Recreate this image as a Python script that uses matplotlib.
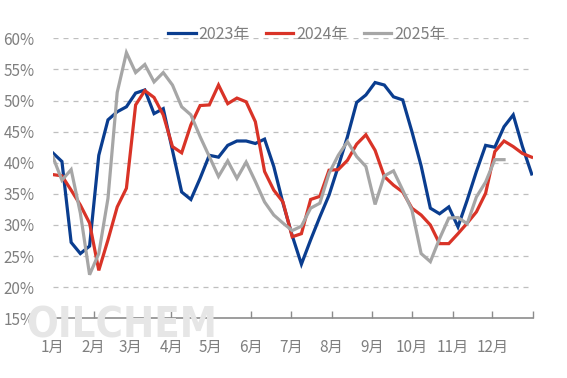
import numpy as np
import matplotlib
matplotlib.use('Agg')
import matplotlib.pyplot as plt

plt.rcParams['font.family'] = ['Noto Sans CJK SC', 'DejaVu Sans']

# weekly operating rate (%), one value per week
rate_2023 = [41.6, 40.2, 27.2, 25.4, 26.6, 41.2, 46.9, 48.2, 49.0, 51.2,
             51.7, 47.9, 48.7, 42.0, 35.3, 34.1, 37.5, 41.2, 40.9, 42.8,
             43.5, 43.5, 43.1, 43.8, 39.4, 33.5, 28.3, 23.7, 27.6, 31.3,
             34.8, 39.4, 44.2, 49.7, 50.9, 52.9, 52.5, 50.6, 50.1, 45.0,
             39.5, 32.7, 31.8, 32.9, 29.7, 34.0, 38.6, 42.8, 42.5, 45.8,
             47.7, 42.6, 38.2]
rate_2024 = [38.1, 37.9, 35.6, 33.2, 30.3, 22.7, 27.6, 32.9, 35.9, 49.3,
             51.6, 50.5, 47.7, 42.6, 41.6, 46.1, 49.2, 49.3, 52.5, 49.5,
             50.4, 49.8, 46.6, 38.6, 35.6, 33.7, 28.1, 28.6, 34.1, 34.6,
             38.8, 38.9, 40.4, 43.0, 44.5, 42.0, 37.8, 36.4, 35.3, 32.7,
             31.6, 30.0, 27.0, 27.0, 28.6, 30.3, 32.1, 35.1, 41.8, 43.5,
             42.6, 41.5, 40.9]
rate_2025 = [41.0, 37.2, 38.9, 31.9, 22.0, 25.4, 34.3, 51.3, 57.7, 54.5,
             55.8, 53.0, 54.5, 52.5, 49.0, 47.7, 44.2, 41.0, 37.8, 40.3,
             37.5, 40.1, 37.0, 33.7, 31.6, 30.3, 29.1, 29.8, 32.7, 33.5,
             38.3, 41.2, 43.4, 41.0, 39.4, 33.3, 37.9, 38.7, 35.6, 32.4,
             25.4, 24.1, 27.8, 31.1, 31.2, 30.2, 34.5, 36.9, 40.5, 40.5]

month_labels = ['1月', '2月', '3月', '4月', '5月', '6月',
                '7月', '8月', '9月', '10月', '11月', '12月']
month_start_day = [0, 31, 59, 90, 120, 151, 181, 212, 243, 273, 304, 334, 365]

fig = plt.figure(figsize=(5.67, 3.78), dpi=100)
ax = fig.add_axes([0.093, 0.158, 0.847, 0.7405])

# watermark
fig.text(0.215, 0.138, 'OILCHEM', fontsize=30, fontweight='bold',
         family='DejaVu Sans', fontstretch='condensed',
         color='#e6e6e6', ha='center', va='center', zorder=0)

for vals, color, name in [(rate_2023, '#0a3d8f', '2023年'),
                          (rate_2024, '#d93327', '2024年'),
                          (rate_2025, '#a6a6a6', '2025年')]:
    x = np.arange(len(vals)) * 7
    ax.plot(x, vals, color=color, lw=2.3, label=name, solid_joinstyle='miter')

ax.set_xlim(0, 365)
ax.set_ylim(15, 60)
ax.set_yticks(range(15, 61, 5))
ax.set_yticklabels([f'{v}%' for v in range(15, 61, 5)])
ax.set_xticks(month_start_day)
ax.set_xticklabels(month_labels + [''])

ax.patch.set_alpha(0)
for s in ['top', 'right', 'left']:
    ax.spines[s].set_visible(False)
ax.spines['bottom'].set_color('#8c8c8c')
ax.spines['bottom'].set_linewidth(1.2)

for v in range(20, 61, 5):
    ax.axhline(v, color='#bfbfbf', lw=0.9, dashes=(4, 4), zorder=0)

ax.tick_params(axis='y', length=0, pad=13, labelsize=11, labelcolor='#7f7f7f')
ax.tick_params(axis='x', direction='in', length=5, color='#8c8c8c', width=1,
               pad=15, labelsize=11, labelcolor='#7f7f7f')

leg = ax.legend(loc='center', bbox_to_anchor=(0.5414, 0.9087),
                bbox_transform=fig.transFigure, ncol=3, frameon=False,
                fontsize=11.5, handlelength=1.7, handletextpad=0.2,
                columnspacing=1.0)
for t in leg.get_texts():
    t.set_color('#7f7f7f')

fig.savefig('out.png', dpi=100)
